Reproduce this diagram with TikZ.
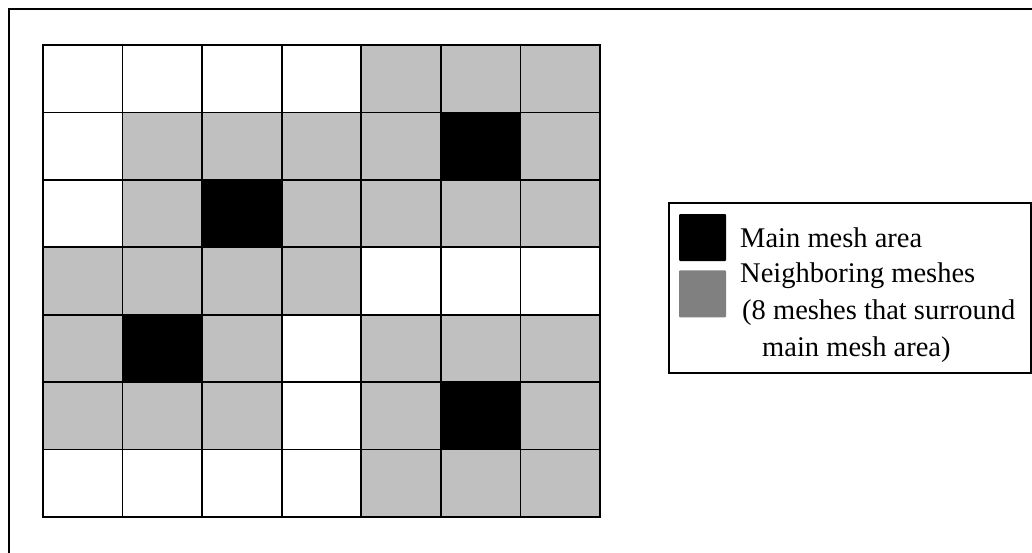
\documentclass[tikz,border=0pt]{standalone}
\usepackage{fontspec}
\setmainfont{Liberation Serif}
\usepackage{xcolor}
\usepackage{tikz}
\usetikzlibrary{positioning}

\definecolor{meshgray}{RGB}{192,192,192}
\definecolor{keygray}{RGB}{128,128,128}

\begin{document}
\begin{tikzpicture}[
    x=1pt, y=-1pt,
    frameline/.style={draw, line width=1.5pt},
    meshline/.style={draw, line width=1.6pt, line cap=rect},
    swatch/.style={rectangle, minimum width=47pt, minimum height=47pt, inner sep=0pt, rounded corners=1pt},
    mainmesh/.style={swatch, fill=black},
    nbmesh/.style={swatch, fill=keygray},
    legendtext/.style={anchor=base west, inner sep=0pt, font=\fontsize{28.5}{37}\selectfont}
]
\useasboundingbox (0,0) rectangle (1032,552);

% Outer frame (cut off on the right and at the bottom)
\draw[frameline] (9,600) -- (9,9) -- (1080,9);

% Mesh grid, 7 x 7 cells
\begin{scope}[shift={(43,45)}, x=79.571pt, y=-67.429pt]
  \fill[meshgray] (0,0) rectangle (7,7);
  % empty meshes
  \foreach \c/\r in {0/0,1/0,2/0,3/0, 0/1, 0/2, 4/3,5/3,6/3, 3/4, 3/5, 0/6,1/6,2/6,3/6}
    \fill[white] (\c,\r) rectangle ++(1,1);
  % main mesh areas
  \foreach \c/\r in {5/1, 2/2, 1/4, 5/5}
    \fill[black] (\c,\r) rectangle ++(1,1);
  \foreach \i in {0,...,7} {
    \draw[meshline] (\i,0) -- (\i,7);
    \draw[meshline] (0,\i) -- (7,\i);
  }
\end{scope}

% Legend
\draw[frameline] (669,203) rectangle (1031,373);

\node[mainmesh] (key_main) at (702.5,237.5) {};
\node[nbmesh, below=9pt of key_main] (key_nb) {};

\node[legendtext] (txt_main) at (740,247) {Main mesh area};
\node[legendtext] (txt_nb) at (740,282) {Neighboring meshes};
\node[legendtext] (txt_nb2) at (742,319) {(8 meshes that surround};
\node[legendtext] (txt_nb3) at (762,356) {main mesh area)};

\end{tikzpicture}
\end{document}
